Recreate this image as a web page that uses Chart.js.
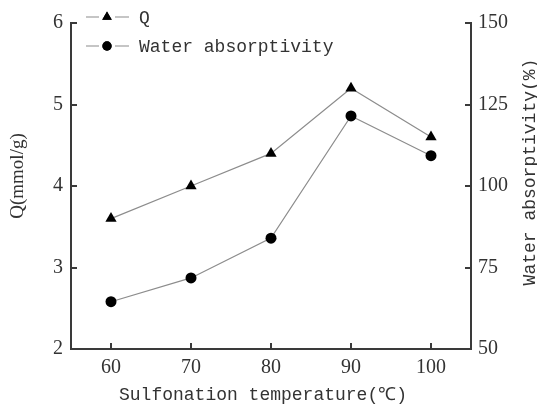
<!DOCTYPE html>
<html lang="en">
<head>
  <meta charset="UTF-8">
  <title>Sulfonation temperature vs Q and water absorptivity</title>
  <script src="https://cdn.jsdelivr.net/npm/chart.js"></script>
  <style>
    body {
      margin: 0;
      background: #fff;
    }
    #chart {
      display: block;
    }
  </style>
</head>
<body>
  <canvas id="chart" width="537" height="405"></canvas>

  <script>
    // sulfonation temperature (°C)
    const temps = [60, 70, 80, 90, 100];
    // ion exchange capacity Q (mmol/g)
    const qValues = [3.6, 4.0, 4.4, 5.2, 4.6];
    // water absorptivity (%)
    const waterValues = [64.5, 71.8, 84.0, 121.5, 109.3];

    const xTicks = [60, 70, 80, 90, 100];
    const qTicks = [2, 3, 4, 5, 6];
    const waterTicks = [50, 75, 100, 125, 150];

    const seriesNames = ['Q', 'Water absorptivity'];

    const axisColor = '#3a3a3a';
    const lineColor = '#8c8c8c';
    const serif = '"Liberation Serif", "DejaVu Serif", serif';
    const mono = '"Liberation Mono", "DejaVu Sans Mono", monospace';

    function toPoints(vals) {
      return temps.map((t, i) => ({ x: t, y: vals[i] }));
    }

    function setTicks(list) {
      return scale => { scale.ticks = list.map(v => ({ value: v })); };
    }

    // short tick marks pointing into the plot
    const inwardTicks = {
      id: 'inwardTicks',
      afterDatasetsDraw(chart) {
        const ctx = chart.ctx;
        const a = chart.chartArea;
        const len = 6;
        const sx = chart.scales.x, sq = chart.scales.yQ, sw = chart.scales.yW;
        ctx.save();
        ctx.fillStyle = axisColor;
        xTicks.forEach(v => {
          const px = Math.round(sx.getPixelForValue(v));
          ctx.fillRect(px - 1, a.bottom - len, 2, len);
        });
        qTicks.forEach(v => {
          const py = Math.round(sq.getPixelForValue(v));
          ctx.fillRect(a.left, py - 1, len, 2);
        });
        waterTicks.forEach(v => {
          const py = Math.round(sw.getPixelForValue(v));
          ctx.fillRect(a.right - len, py - 1, len, 2);
        });
        ctx.restore();
      }
    };

    // legend: "—▲—  Q" style rows in the upper left corner
    const legendRows = {
      id: 'legendRows',
      afterDraw(chart) {
        const ctx = chart.ctx;
        const rows = [17, 46];
        ctx.save();
        chart.data.datasets.forEach((ds, i) => {
          const y = rows[i];
          ctx.strokeStyle = lineColor;
          ctx.lineWidth = 1.2;
          ctx.beginPath();
          ctx.moveTo(86, y); ctx.lineTo(99, y);
          ctx.moveTo(115, y); ctx.lineTo(129, y);
          ctx.stroke();
          Chart.helpers.drawPoint(ctx, {
            pointStyle: ds.pointStyle,
            radius: ds.pointRadius * 0.85,
            borderWidth: 0
          }, 107, y);
          ctx.fillStyle = '#000';
          ctx.fill();
          ctx.fillStyle = '#333';
          ctx.font = '18px ' + mono;
          ctx.textBaseline = 'middle';
          ctx.textAlign = 'left';
          ctx.fillText(ds.label, 139, y + 1);
        });
        ctx.restore();
      }
    };

    // axis titles; the right one reads bottom to top like the left one
    const axisTitles = {
      id: 'axisTitles',
      afterDraw(chart) {
        const ctx = chart.ctx;
        const a = chart.chartArea;
        ctx.save();
        ctx.fillStyle = '#333';
        ctx.textAlign = 'center';
        ctx.textBaseline = 'middle';

        ctx.font = '18px ' + mono;
        ctx.fillText('Sulfonation temperature(℃)', (a.left + a.right) / 2 - 8, 395);

        ctx.save();
        ctx.translate(18, 176);
        ctx.rotate(-Math.PI / 2);
        ctx.font = '19px ' + serif;
        ctx.fillText('Q(mmol/g)', 0, 0);
        ctx.restore();

        ctx.save();
        ctx.translate(530, 172);
        ctx.rotate(-Math.PI / 2);
        ctx.font = '18px ' + mono;
        ctx.fillText('Water absorptivity(%)', 0, 0);
        ctx.restore();

        ctx.restore();
      }
    };

    const tickFont = { family: serif, size: 20 };
    const axisBorder = { color: axisColor, width: 2 };
    const plainGrid = { drawOnChartArea: false, drawTicks: false };

    new Chart(document.getElementById('chart'), {
      type: 'line',
      data: {
        datasets: [{
          label: seriesNames[0],
          data: toPoints(qValues),
          yAxisID: 'yQ',
          borderColor: lineColor,
          borderWidth: 1.2,
          pointStyle: 'triangle',
          pointRadius: 6.5,
          pointBackgroundColor: '#000',
          pointBorderWidth: 0,
          tension: 0
        }, {
          label: seriesNames[1],
          data: toPoints(waterValues),
          yAxisID: 'yW',
          borderColor: lineColor,
          borderWidth: 1.2,
          pointStyle: 'circle',
          pointRadius: 5.5,
          pointBackgroundColor: '#000',
          pointBorderWidth: 0,
          tension: 0
        }]
      },
      options: {
        responsive: false,
        animation: false,
        layout: { padding: { top: 23, left: 0, right: 0, bottom: 0 } },
        plugins: {
          legend: { display: false },
          tooltip: { enabled: false }
        },
        scales: {
          x: {
            type: 'linear',
            min: 55,
            max: 105,
            afterBuildTicks: setTicks(xTicks),
            afterFit: s => { s.height = 56; },
            border: axisBorder,
            grid: plainGrid,
            ticks: { font: tickFont, color: '#333', padding: 7 }
          },
          yQ: {
            position: 'left',
            min: 2,
            max: 6,
            afterBuildTicks: setTicks(qTicks),
            afterFit: s => { s.width = 71; },
            border: axisBorder,
            grid: plainGrid,
            ticks: { font: tickFont, color: '#333', padding: 8 }
          },
          yW: {
            position: 'right',
            min: 50,
            max: 150,
            afterBuildTicks: setTicks(waterTicks),
            afterFit: s => { s.width = 66; },
            border: axisBorder,
            grid: plainGrid,
            ticks: { font: tickFont, color: '#333', padding: 7 }
          }
        }
      },
      plugins: [inwardTicks, legendRows, axisTitles]
    });
  </script>
</body>
</html>
